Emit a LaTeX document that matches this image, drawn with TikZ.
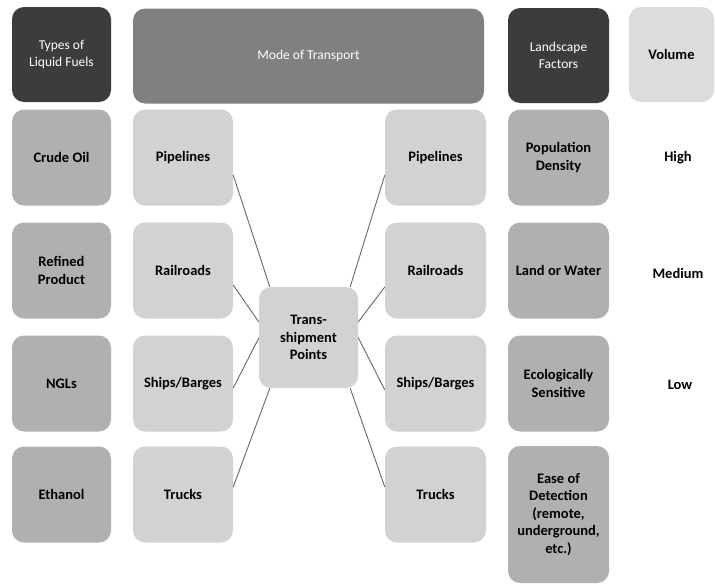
\documentclass[tikz,border=0pt]{standalone}
\usepackage{fontspec}
\setmainfont{Carlito}
\usetikzlibrary{calc}
\definecolor{hdark}{HTML}{3C3C3C}
\definecolor{hmid}{HTML}{808080}
\definecolor{hlight}{HTML}{DCDCDC}
\definecolor{boxmid}{HTML}{B0B0B0}
\definecolor{boxlight}{HTML}{D2D2D2}
\definecolor{connc}{HTML}{686868}
\tikzset{
  box/.style={rounded corners=12pt, inner sep=0pt, align=center,
    minimum width=100pt, minimum height=96pt,
    font=\fontsize{14.5}{17.5}\selectfont\bfseries},
  hdr/.style={box, minimum height=95pt, text=white,
    font=\fontsize{13.5}{16.5}\selectfont},
  fuelbox/.style={box, fill=boxmid},
  modebox/.style={box, fill=boxlight},
  landbox/.style={box, fill=boxmid},
  vlabel/.style={inner sep=0pt, font=\fontsize{14.5}{17.5}\selectfont\bfseries},
  conn/.style={draw=connc, line width=0.9pt}
}
\begin{document}
\begin{tikzpicture}[x=1pt,y=-1pt]
\path[use as bounding box, fill=white] (0,0) rectangle (715,584);
% headers
\node[hdr, fill=hdark, minimum width=99pt] (htf) at (61.5,54.5) {Types of\\Liquid Fuels};
\node[hdr, fill=hmid, minimum width=351pt] (hmt) at (308.5,56) {Mode of Transport};
\node[hdr, fill=hdark, minimum width=101pt] (hlf) at (558.5,55.5) {Landscape\\Factors};
\node[hdr, fill=hlight, text=black, minimum width=85pt, font=\fontsize{14.5}{16}\selectfont\bfseries] (hvol) at (671.5,54.5) {Volume};
% fuel types
\node[fuelbox, minimum width=99pt] (fc) at (61.5,157.5) {Crude Oil};
\node[fuelbox, minimum width=99pt] (fr) at (61.5,270.5) {Refined\\Product};
\node[fuelbox, minimum width=99pt] (fn) at (61.5,383.5) {NGLs};
\node[fuelbox, minimum width=99pt] (fe) at (61.5,494.5) {Ethanol};
% left modes
\node[modebox] (lp) at (183,157.5) {Pipelines};
\node[modebox] (lr) at (183,270.5) {Railroads};
\node[modebox] (ls) at (183,383.5) {Ships/Barges};
\node[modebox] (lt) at (183,494.5) {Trucks};
% right modes
\node[modebox, minimum width=101pt] (rp) at (435.5,157.5) {Pipelines};
\node[modebox, minimum width=101pt] (rr) at (435.5,270.5) {Railroads};
\node[modebox, minimum width=101pt] (rs) at (435.5,383.5) {Ships/Barges};
\node[modebox, minimum width=101pt] (rt) at (435.5,494.5) {Trucks};
% transshipment
\node[modebox, minimum width=99pt, minimum height=101pt] (ts) at (308.5,337.5) {Trans-\\shipment\\Points};
% landscape factors
\node[landbox, minimum width=101pt] (lpd) at (558.5,157.5) {Population\\Density};
\node[landbox, minimum width=101pt] (llw) at (558.5,270.5) {Land or Water};
\node[landbox, minimum width=101pt] (les) at (558.5,383.5) {Ecologically\\Sensitive};
\node[landbox, minimum width=101pt, minimum height=137pt] (led) at (558.5,514.5) {Ease of\\Detection\\(remote,\\underground,\\etc.)};
% volume
\node[vlabel] (vh) at (678,157.5) {High};
\node[vlabel] (vm) at (678,273) {Medium};
\node[vlabel] (vl) at (680,384.5) {Low};
% connectors
\draw[conn] ($(lp.east)+(0,17.5)$) -- ($(ts.north west)+(11,0)$);
\draw[conn] ($(lr.east)+(0,14.5)$) -- ($(ts.west)+(0,-15.5)$);
\draw[conn] ($(ls.east)+(0,4.5)$) -- ($(ts.west)+(0,0.5)$);
\draw[conn] ($(lt.east)+(0,-7.5)$) -- ($(ts.south west)+(11,0)$);
\draw[conn] ($(rp.west)+(0,17.5)$) -- ($(ts.north east)+(-8,0)$);
\draw[conn] ($(rr.west)+(0,16.5)$) -- ($(ts.east)+(0,-15.5)$);
\draw[conn] ($(rs.west)+(0,6.5)$) -- ($(ts.east)+(0,0)$);
\draw[conn] ($(rt.west)+(0,-7.5)$) -- ($(ts.south east)+(-8,0)$);
\end{tikzpicture}
\end{document}
